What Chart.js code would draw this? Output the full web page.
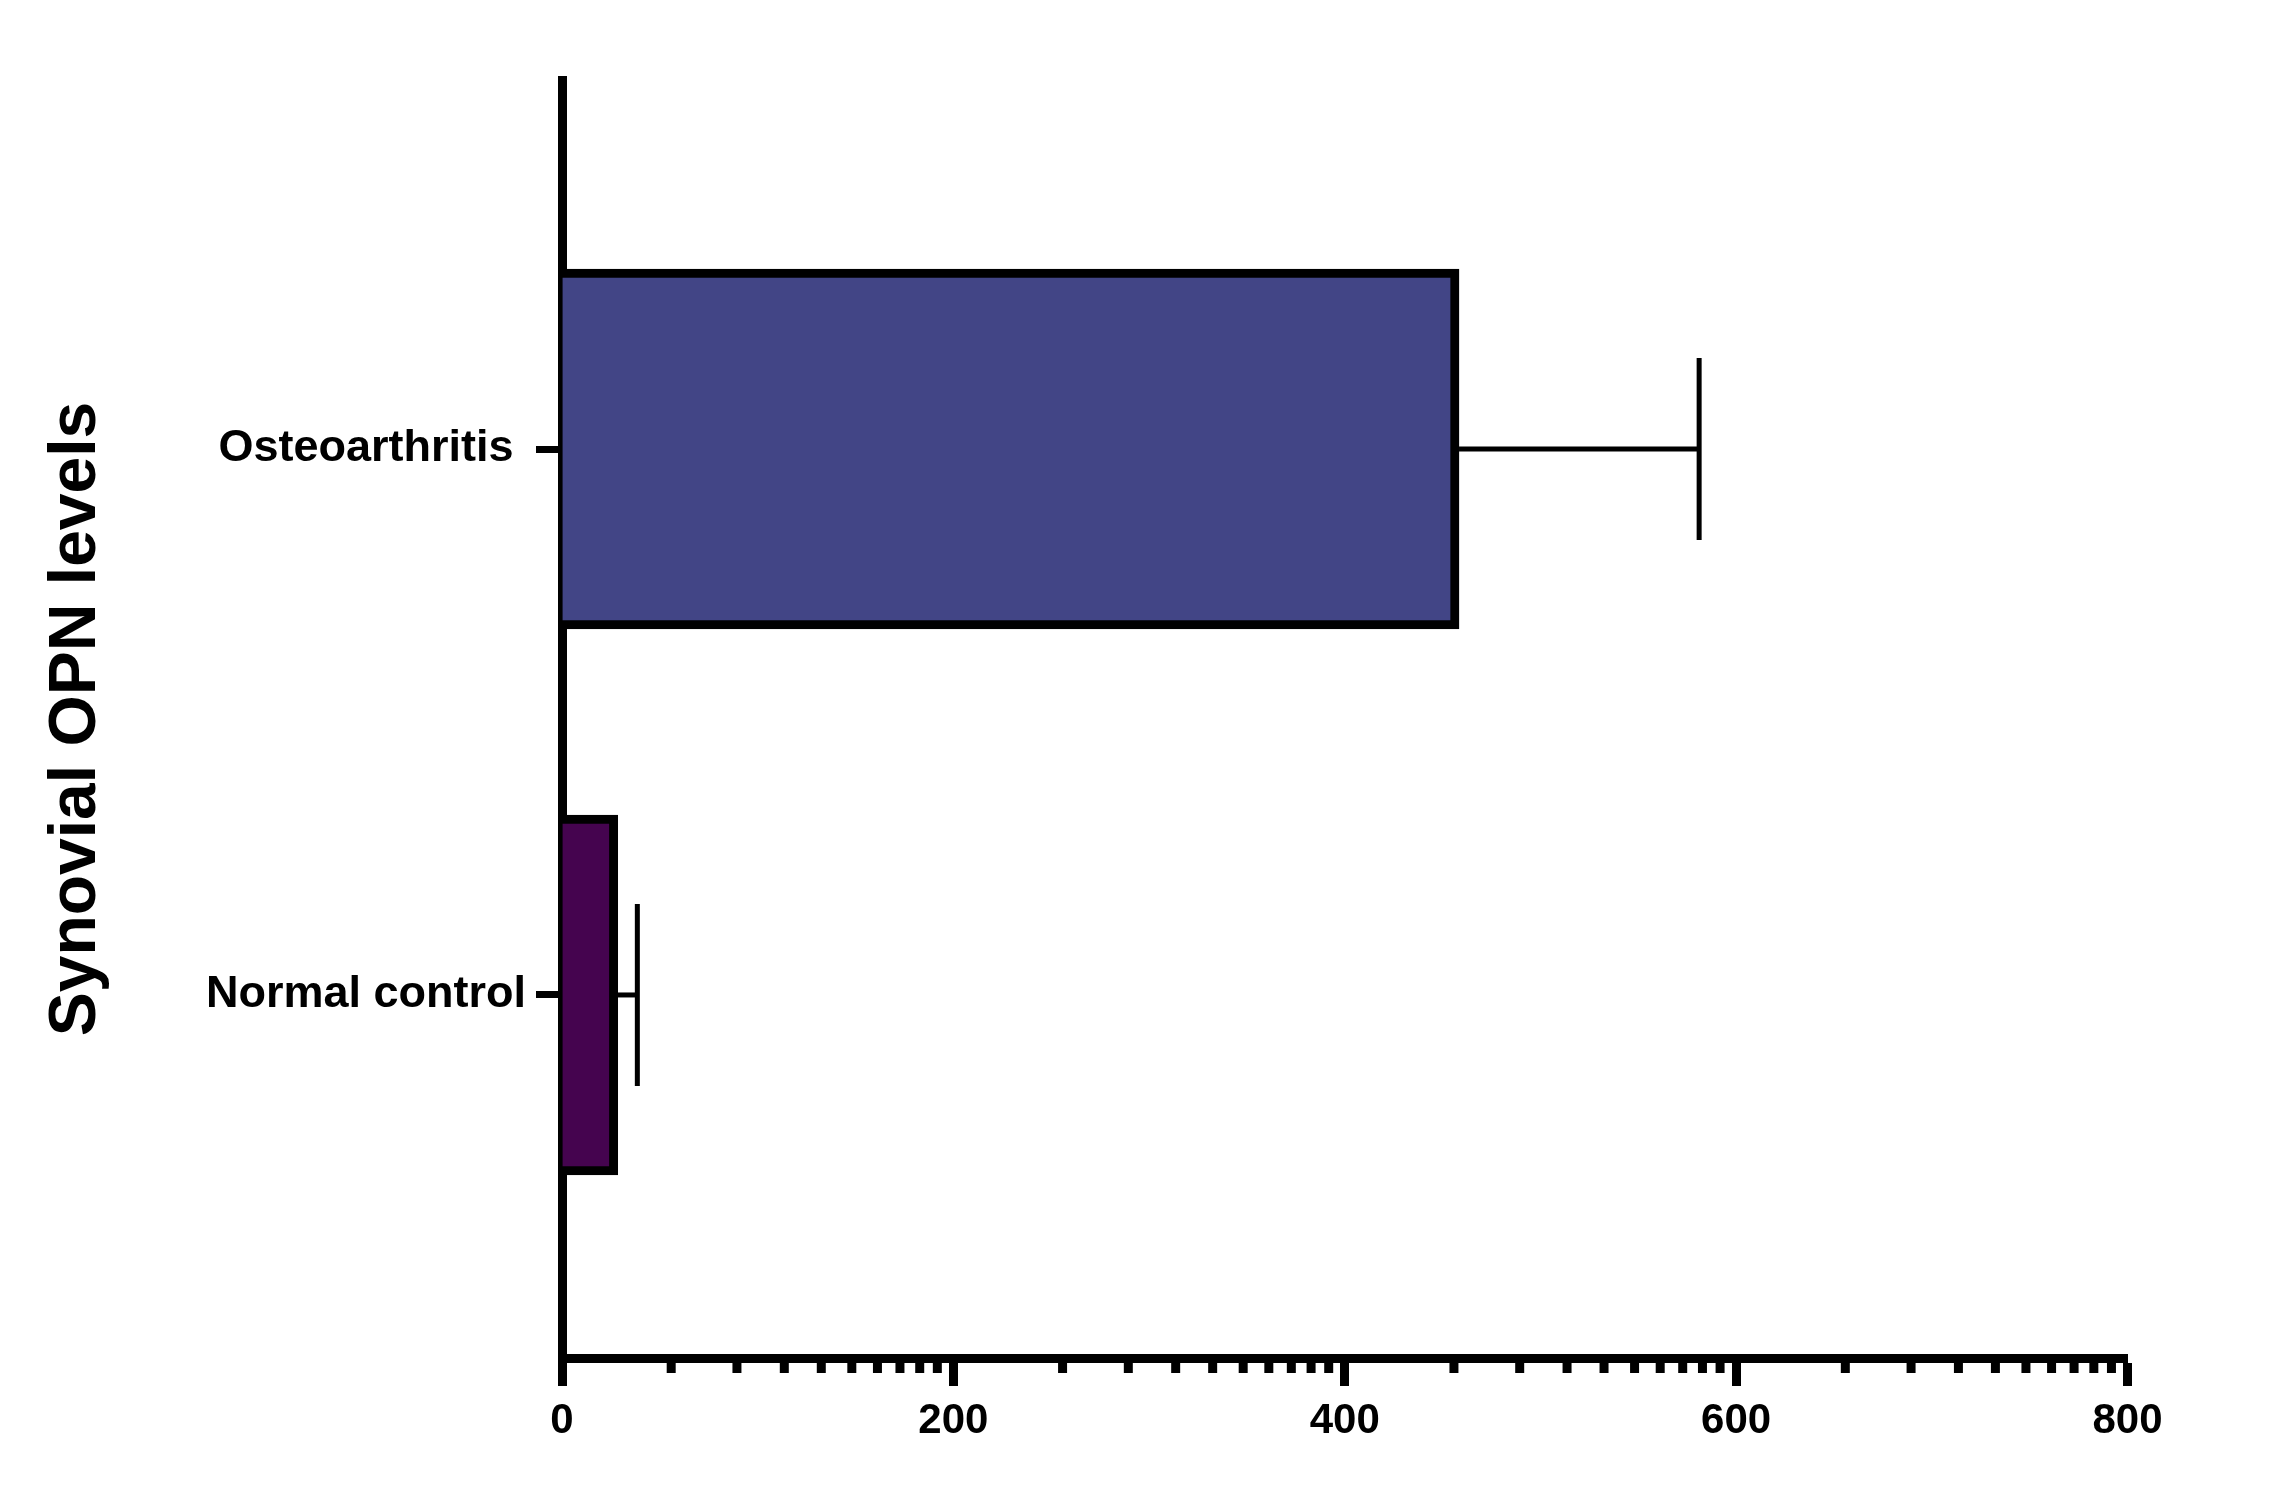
<!DOCTYPE html>
<html>
<head>
<meta charset="utf-8">
<script src="https://cdn.jsdelivr.net/npm/chart.js@4.4.1/dist/chart.umd.min.js"></script>
<style>
  html, body { margin: 0; padding: 0; background: #fff; }
  canvas { display: block; }
</style>
</head>
<body>
<canvas id="myChart" width="2271" height="1485"></canvas>
<script>
// values
const categories = ['Osteoarthritis ', 'Normal control'];
const categoryPos = [1, 0];
const means = [458.4, 28.5];
const errors = [122.7, 10.0];
const barColors = ['#424586', '#45044f'];
const xTicks = [0, 200, 400, 600, 800];
// minor tick offsets inside each 200 step (log-style spacing in the original)
const minorOffsets = [55.8, 89.4, 113.6, 132.5, 148.1, 161.2, 172.7, 182.8, 191.8];

const FONT = '"Liberation Sans", Arial, sans-serif';

const errorBarPlugin = {
    id: 'errorBars',
    afterDatasetsDraw(chart) {
        const ctx = chart.ctx;
        const xScale = chart.scales.x;
        const meta = chart.getDatasetMeta(0);
        ctx.save();
        ctx.strokeStyle = '#000';
        ctx.lineWidth = 5;
        ctx.lineCap = 'butt';
        meta.data.forEach((bar, i) => {
            let x0 = xScale.getPixelForValue(means[i]);
            let x1 = xScale.getPixelForValue(means[i] + errors[i]);
            let y = bar.y;
            ctx.beginPath();
            ctx.moveTo(x0, y);
            ctx.lineTo(x1, y);
            ctx.stroke();
            ctx.beginPath();
            ctx.moveTo(x1, y - 91);
            ctx.lineTo(x1, y + 91);
            ctx.stroke();
        });
        ctx.restore();
    }
};

const minorTickPlugin = {
    id: 'minorTicks',
    afterDraw(chart) {
        const ctx = chart.ctx;
        const xScale = chart.scales.x;
        const bottom = chart.chartArea.bottom;
        ctx.save();
        ctx.strokeStyle = '#000';
        ctx.lineWidth = 9;
        ctx.lineCap = 'butt';
        for (let i = 0; i < xTicks.length - 1; i++) {
            minorOffsets.forEach(off => {
                let x = xScale.getPixelForValue(xTicks[i] + off);
                ctx.beginPath();
                ctx.moveTo(x, bottom + 4);
                ctx.lineTo(x, bottom + 15);
                ctx.stroke();
            });
        }
        ctx.restore();
    }
};

function createGraph() {
    const ctx = document.getElementById('myChart').getContext('2d');

    new Chart(ctx, {
        type: 'bar',
        data: {
            datasets: [{
                data: categories.map((c, i) => ({ x: means[i], y: categoryPos[i] })),
                backgroundColor: barColors,
                borderColor: '#000',
                borderWidth: 9,
                barThickness: 360
            }]
        },
        options: {
            indexAxis: 'y',
            responsive: false,
            animation: false,
            devicePixelRatio: 1,
            layout: {
                padding: { left: 0, right: 143.5, top: 80, bottom: 0 }
            },
            plugins: {
                legend: { display: false },
                tooltip: { enabled: false }
            },
            scales: {
                x: {
                    type: 'linear',
                    min: 0,
                    max: 800,
                    z: 1,
                    afterFit(scale) { scale.height = 127; },
                    afterBuildTicks(scale) {
                        scale.ticks = xTicks.map(v => ({ value: v }));
                    },
                    border: { display: true, color: '#000', width: 9 },
                    grid: {
                        drawOnChartArea: false,
                        drawTicks: true,
                        tickLength: 28,
                        tickWidth: 9,
                        tickColor: '#000'
                    },
                    ticks: {
                        color: '#000',
                        padding: 10,
                        font: { family: FONT, size: 42, weight: 'bold' }
                    }
                },
                y: {
                    type: 'linear',
                    min: -0.665,
                    max: 1.676,
                    offset: false,
                    z: 1,
                    afterFit(scale) { scale.width = 562; },
                    afterBuildTicks(scale) {
                        scale.ticks = categoryPos.map(v => ({ value: v }));
                    },
                    border: { display: true, color: '#000', width: 9 },
                    grid: {
                        offset: false,
                        drawOnChartArea: false,
                        drawTicks: true,
                        tickLength: 26,
                        tickWidth: 7,
                        tickColor: '#000'
                    },
                    ticks: {
                        color: '#000',
                        padding: 10,
                        font: { family: FONT, size: 45, weight: 'bold' },
                        callback: function(value) {
                            let i = categoryPos.indexOf(value);
                            return i >= 0 ? categories[i] : '';
                        }
                    },
                    title: {
                        display: true,
                        text: 'Synovial OPN levels',
                        color: '#000',
                        padding: { top: 37, bottom: 0 },
                        font: { family: FONT, size: 66, weight: 'bold', lineHeight: 1.2 }
                    }
                }
            }
        },
        plugins: [errorBarPlugin, minorTickPlugin]
    });
}

document.addEventListener('DOMContentLoaded', createGraph);
</script>
</body>
</html>
